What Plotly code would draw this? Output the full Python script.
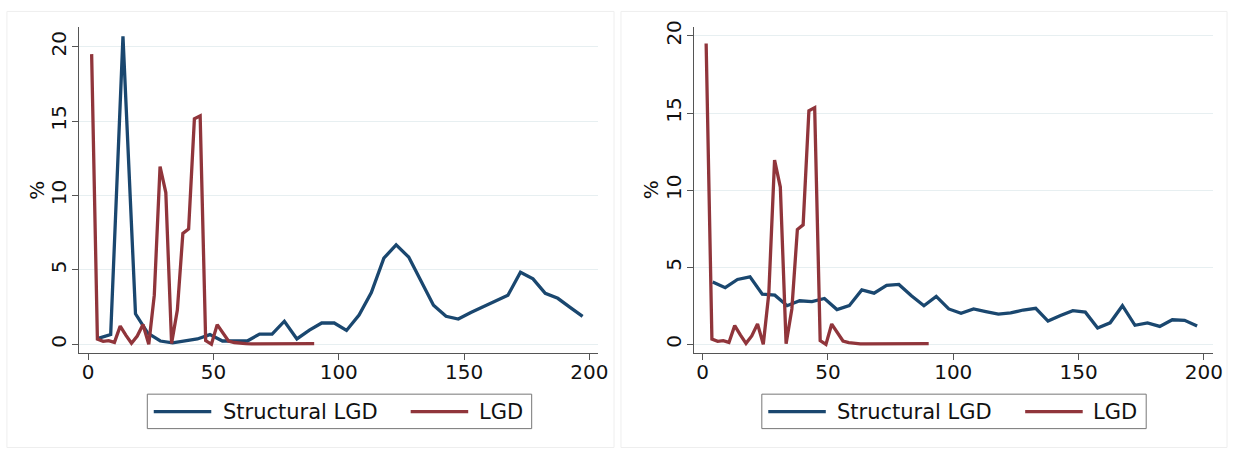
import plotly.graph_objects as go

# Horizontal positions of the two series
structural_x = [4.0, 9.0, 13.9, 18.9, 23.8, 28.8, 33.7, 38.7, 43.6, 48.6,
                53.6, 58.5, 63.5, 68.4, 73.4, 78.3, 83.3, 88.3, 93.2, 98.2,
                103.1, 108.1, 113.0, 118.0, 122.9, 127.9, 132.9, 137.8, 142.8, 147.7,
                152.7, 157.6, 162.6, 167.5, 172.5, 177.5, 182.4, 187.4, 192.3, 197.3]
lgd_x = [1.4, 3.7, 6.0, 8.2, 10.5, 12.8, 15.1, 17.3, 19.6, 21.9,
         24.2, 26.4, 28.7, 31.0, 33.3, 35.6, 37.8, 40.1, 42.4, 44.7,
         46.9, 49.2, 51.5, 53.8, 56.0, 58.3, 60.6, 62.9, 65.2, 67.4,
         69.7, 72.0, 74.3, 76.5, 78.8, 81.1, 83.4, 85.6, 87.9, 90.2]

# Structural LGD, left panel (%)
structural_left = [0.40, 0.65, 20.7, 2.05, 0.75, 0.22, 0.10, 0.22, 0.36, 0.65,
                   0.22, 0.22, 0.22, 0.69, 0.69, 1.55, 0.36, 0.95, 1.43, 1.43,
                   0.93, 1.97, 3.47, 5.79, 6.68, 5.86, 4.25, 2.63, 1.88, 1.70,
                   2.14, 2.54, 2.92, 3.29, 4.84, 4.40, 3.43, 3.09, 2.48, 1.88]
# Structural LGD, right panel (%)
structural_right = [4.05, 3.68, 4.21, 4.38, 3.26, 3.19, 2.51, 2.83, 2.77, 2.98,
                    2.26, 2.51, 3.53, 3.32, 3.83, 3.89, 3.15, 2.51, 3.11, 2.30,
                    2.02, 2.30, 2.13, 1.96, 2.04, 2.23, 2.34, 1.51, 1.87, 2.19,
                    2.09, 1.07, 1.40, 2.51, 1.24, 1.40, 1.17, 1.60, 1.56, 1.19]
# LGD (%), same in both panels
lgd = [19.5, 0.35, 0.20, 0.25, 0.13, 1.22, 0.60, 0.07, 0.55, 1.33,
       0.00, 3.30, 11.95, 10.2, 0.05, 2.30, 7.45, 7.75, 15.15, 15.35,
       0.25, 0.00, 1.32, 0.75, 0.22, 0.12, 0.07, 0.04, 0.03, 0.03,
       0.02, 0.02, 0.06, 0.06, 0.06, 0.06, 0.05, 0.05, 0.05, 0.05]

x_ticks = [0, 50, 100, 150, 200]
y_ticks = [0, 5, 10, 15, 20]
series_names = ["Structural LGD", "LGD"]
y_title = "%"

NAVY = "#1a476f"
MAROON = "#90353b"
AXIS = "#555555"
GRID = "#e7eff1"
FONT = "DejaVu Sans"
W, H = 1242, 449


def fx(p):
    return p / W


def fy(p):
    return 1 - p / H


fig = go.Figure()

panels = [
    dict(xa="x", ya="y", blue=structural_left, left=80.0, right=603.0,
         yrange=[-0.6, 21.3], frame=(7, 619)),
    dict(xa="x2", ya="y2", blue=structural_right, left=699.5, right=1222.5,
         yrange=[-0.57, 20.55], frame=(626, 1237)),
]

shapes = []
annotations = []
layout_axes = {}

for i, p in enumerate(panels):
    fig.add_trace(go.Scatter(x=structural_x, y=p["blue"], mode="lines",
                             line=dict(color=NAVY, width=3.3),
                             name=series_names[0], showlegend=False,
                             xaxis=p["xa"], yaxis=p["ya"]))
    fig.add_trace(go.Scatter(x=lgd_x, y=lgd, mode="lines",
                             line=dict(color=MAROON, width=3.3),
                             name=series_names[1], showlegend=False,
                             xaxis=p["xa"], yaxis=p["ya"]))

    sfx = "" if i == 0 else "2"
    layout_axes["xaxis" + sfx] = dict(
        domain=[fx(p["left"]), fx(p["right"])], range=[-3.5, 203.5],
        anchor="y" + sfx, tickvals=x_ticks, ticks="outside", ticklen=6,
        tickcolor=AXIS, tickwidth=1, showline=True, linecolor=AXIS,
        linewidth=1.2, showgrid=False, zeroline=False, ticklabelstandoff=-5,
        tickfont=dict(family=FONT, size=20, color="#111111"))
    layout_axes["yaxis" + sfx] = dict(
        domain=[fy(351.7), fy(20.7)], range=p["yrange"],
        anchor="x" + sfx, tickvals=y_ticks, ticks="outside", ticklen=6,
        tickcolor=AXIS, tickwidth=1, showline=True, linecolor=AXIS,
        linewidth=1.2, showgrid=True, gridcolor=GRID, gridwidth=1.2,
        zeroline=False, tickangle=-90, ticklabelstandoff=-2,
        tickfont=dict(family=FONT, size=20, color="#111111"))

    # panel frame
    f0, f1 = p["frame"]
    shapes.append(dict(type="rect", xref="paper", yref="paper",
                       x0=fx(f0), x1=fx(f1), y0=fy(447.5), y1=fy(4.5),
                       line=dict(color="#eeeeee", width=1), layer="below"))

    # y-axis title
    annotations.append(dict(text=y_title, xref="paper", yref="paper",
                            x=fx(p["left"] - 43), y=fy(186), textangle=-90,
                            showarrow=False, xanchor="center", yanchor="middle",
                            font=dict(family=FONT, size=20, color="#111111")))

    # legend below the plot area
    off = p["left"] - 80.0
    shapes.append(dict(type="rect", xref="paper", yref="paper",
                       x0=fx(148.5 + off), x1=fx(536 + off),
                       y0=fy(428.3), y1=fy(393.3),
                       line=dict(color="#777777", width=1), fillcolor="white"))
    for (l0, l1, tx), color, name in zip([(155, 213, 223.7), (414, 472, 481.7)],
                                         [NAVY, MAROON], series_names):
        shapes.append(dict(type="line", xref="paper", yref="paper",
                           x0=fx(l0 + off), x1=fx(l1 + off),
                           y0=fy(411), y1=fy(411),
                           line=dict(color=color, width=3.3)))
        annotations.append(dict(text=name, xref="paper", yref="paper",
                                x=fx(tx + off - 1), y=fy(411), showarrow=False,
                                xanchor="left", yanchor="middle",
                                font=dict(family=FONT, size=21, color="#111111")))

fig.update_layout(
    width=W, height=H, margin=dict(l=0, r=0, t=0, b=0),
    paper_bgcolor="white", plot_bgcolor="white",
    shapes=shapes, annotations=annotations, showlegend=False,
    **layout_axes)

fig.write_html("out.html")
